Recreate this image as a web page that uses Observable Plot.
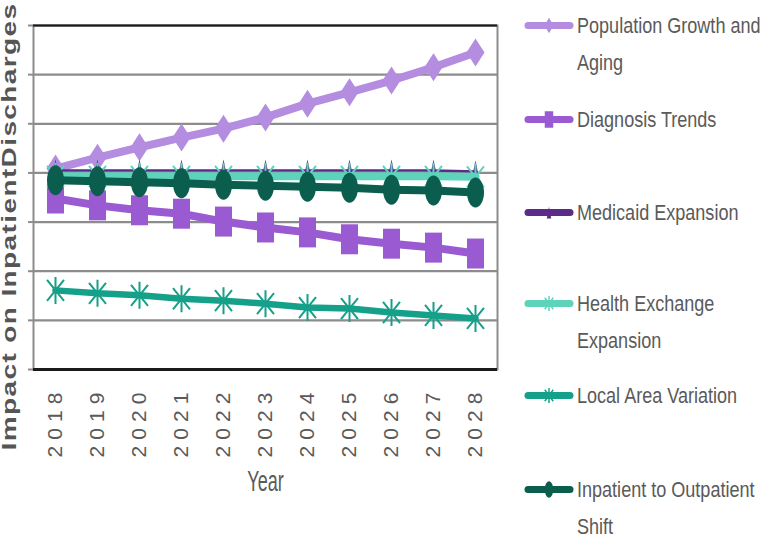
<!DOCTYPE html>
<html><head><meta charset="utf-8">
<script src="https://cdn.jsdelivr.net/npm/d3@7"></script>
<script src="https://cdn.jsdelivr.net/npm/@observablehq/plot@0.6"></script>
<style>
body{margin:0;background:#fff;}
#wrap{position:relative;width:767px;height:539px;overflow:hidden;background:#fff;}
#wrap > svg{position:absolute;left:0;top:0;}
.item{position:absolute;left:522px;display:flex;align-items:flex-start;}
.item svg{flex:none;}
.item span{display:inline-block;transform:scaleX(0.82);transform-origin:0 0;font-family:"Liberation Sans Narrow","Arial Narrow","Liberation Sans",Arial,sans-serif;font-size:22px;line-height:37px;color:#5a5a5a;white-space:nowrap;}
</style></head><body><div id="wrap"></div>
<script>
// ---- data ----
const years = ["2018","2019","2020","2021","2022","2023","2024","2025","2026","2027","2028"];
const seriesNames = ["Population Growth and Aging","Diagnosis Trends","Medicaid Expansion","Health Exchange Expansion","Local Area Variation","Inpatient to Outpatient Shift"];
const legendLines = [["Population Growth and","Aging"],["Diagnosis Trends"],["Medicaid Expansion"],["Health Exchange","Expansion"],["Local Area Variation"],["Inpatient to Outpatient","Shift"]];
const populationGrowth = [4.09,4.31,4.52,4.72,4.90,5.13,5.41,5.64,5.88,6.15,6.45];
const diagnosisTrends  = [3.48,3.34,3.24,3.17,3.01,2.89,2.79,2.65,2.56,2.48,2.36];
const medicaidExpansion = [4.05,4.05,4.05,4.05,4.05,4.05,4.05,4.05,4.05,4.05,4.03];
const healthExchange   = [3.93,3.93,3.93,3.93,3.93,3.93,3.93,3.93,3.93,3.93,3.92];
const localVariation   = [1.61,1.55,1.51,1.44,1.40,1.34,1.26,1.24,1.16,1.10,1.04];
const inpatientShift   = [3.85,3.83,3.81,3.79,3.76,3.74,3.72,3.70,3.66,3.64,3.60];
const seriesColors = ["#b48ce0","#9a5bd2","#5c2a88","#5ed3bc","#15a089","#0b5e4d"];
const yGridTicks = [0,1,2,3,4,5,6,7];
const yLabel = "Impact on InpatientDischarges";
const xLabel = "Year";

const allValues = [populationGrowth,diagnosisTrends,medicaidExpansion,healthExchange,localVariation,inpatientShift];
const rows = [];
allValues.forEach((vals,i)=>vals.forEach((v,j)=>rows.push({series:seriesNames[i],year:years[j],value:v})));

// ---- shapes ----
const K = 0.5523;
const shapes = {
  diamond:(w,h)=>({draw(c){c.moveTo(0,-h);c.lineTo(w,0);c.lineTo(0,h);c.lineTo(-w,0);c.closePath();}}),
  rect:(w,h)=>({draw(c){c.moveTo(-w,-h);c.lineTo(w,-h);c.lineTo(w,h);c.lineTo(-w,h);c.closePath();}}),
  tri:(w,h)=>({draw(c){c.moveTo(0,-h);c.lineTo(w,h);c.lineTo(-w,h);c.closePath();}}),
  aster:(w,h)=>({draw(c){c.moveTo(0,-h);c.lineTo(0,h);c.moveTo(-w,-h*0.78);c.lineTo(w,h*0.78);c.moveTo(-w,h*0.78);c.lineTo(w,-h*0.78);}}),
  ellipse:(w,h)=>({draw(c){c.moveTo(0,-h);c.bezierCurveTo(K*w,-h,w,-K*h,w,0);c.bezierCurveTo(w,K*h,K*w,h,0,h);c.bezierCurveTo(-K*w,h,-w,K*h,-w,0);c.bezierCurveTo(-w,-K*h,-K*w,-h,0,-h);c.closePath();}})
};
const style = [
  {lw:8, shape:"diamond", w:9, h:14, filled:true},
  {lw:8, shape:"rect", w:8.5, h:15, filled:true},
  {lw:2.5, shape:"tri", w:4.5, h:11, filled:true},
  {lw:8, shape:"aster", w:8.5, h:13.5, filled:false},
  {lw:6.5, shape:"aster", w:8.5, h:13.5, filled:false},
  {lw:8, shape:"ellipse", w:8.5, h:15, filled:true}
];

const seriesMarks = [];
seriesNames.forEach((name,i)=>{
  const d = rows.filter(r=>r.series===name);
  const s = style[i], col = seriesColors[i];
  seriesMarks.push(Plot.line(d,{x:"year",y:"value",stroke:col,strokeWidth:s.lw,strokeLinejoin:"round"}));
  seriesMarks.push(Plot.dot(d,{x:"year",y:"value",r:4.5,symbol:shapes[s.shape](s.w,s.h),
    fill:s.filled?col:"none",stroke:s.filled?"none":col,strokeWidth:s.filled?0:2}));
});

const chart = Plot.plot({
  width:767, height:539,
  marginLeft:33, marginRight:270, marginTop:25, marginBottom:170,
  style:{background:"transparent",fontFamily:"'Liberation Sans',Arial,sans-serif"},
  x:{type:"point", domain:years, padding:0.5, label:null},
  y:{domain:[0,7], label:null},
  marks:[
    Plot.gridY(yGridTicks,{stroke:"#8c8c8c",strokeOpacity:1,strokeWidth:2.2}),
    Plot.frame({stroke:"#8c8c8c",strokeWidth:2}),
    Plot.ruleY([0],{stroke:"#1a1a1a",strokeWidth:3}),
    Plot.ruleY([7],{stroke:"#1a1a1a",strokeWidth:2}),
    Plot.axisY({ticks:yGridTicks,tickSize:5,tickFormat:()=>"",stroke:"#8c8c8c",strokeWidth:2,label:null}),
    Plot.axisX({tickRotate:-90,tickSize:0,tickPadding:23,fontSize:21,fill:"#5a5a5a",label:null}),
    ...seriesMarks,
    Plot.text([yLabel],{text:d=>d,frameAnchor:"bottom-left",textAnchor:"start",dx:-18,dy:81,rotate:-90,fontSize:20,fontWeight:"bold",fill:"#555"}),
    Plot.text([xLabel],{text:d=>d,frameAnchor:"bottom",dy:121,fontSize:22,fill:"#5a5a5a"})
  ]
});

// post-process text geometry
const sel = d3.select(chart);
sel.selectAll('g[aria-label^="x-axis"] text').attr("textLength",65).attr("lengthAdjust","spacing");
const texts = sel.selectAll('g[aria-label="text"] text').nodes();
if (texts[0]) { texts[0].setAttribute("textLength",448); texts[0].setAttribute("lengthAdjust","spacingAndGlyphs"); texts[0].style.letterSpacing="1px"; }
if (texts[1]) { texts[1].setAttribute("transform",(texts[1].getAttribute("transform")||"")+" scale(0.82,1.35)"); }

const wrap = document.getElementById("wrap");
wrap.appendChild(chart);

// legend
const firstLineCenters = [25,119,212,303,395,489];
seriesNames.forEach((name,i)=>{
  const item = document.createElement("div");
  item.className="item";
  item.style.top = (firstLineCenters[i]-18.5)+"px";
  const s = style[i], col = seriesColors[i];
  const sw = d3.create("svg").attr("width",55).attr("height",37);
  sw.append("line").attr("x1",6).attr("x2",48).attr("y1",18.5).attr("y2",18.5)
    .attr("stroke",col).attr("stroke-width",7).attr("stroke-linecap","round");
  const p = d3.path();
  shapes[s.shape](s.w*0.5,s.h*0.55).draw(p);
  sw.append("path").attr("d",p.toString()).attr("transform","translate(27,18.5)")
    .attr("fill",s.filled?col:"none").attr("stroke",s.filled?"none":col).attr("stroke-width",1.5);
  item.appendChild(sw.node());
  const span = document.createElement("span");
  span.innerHTML = legendLines[i].join("<br>");
  item.appendChild(span);
  wrap.appendChild(item);
});
</script></body></html>
